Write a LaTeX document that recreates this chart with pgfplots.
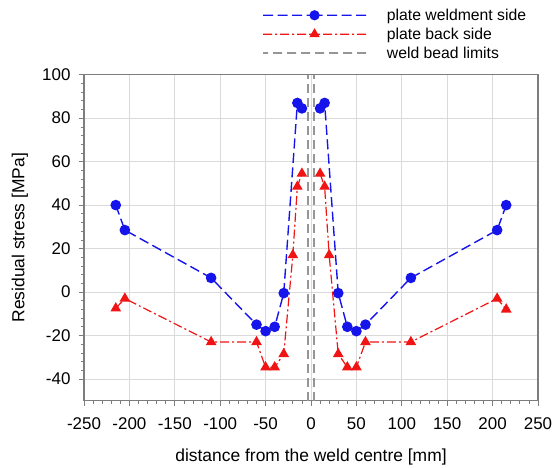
\documentclass[border=0pt]{standalone}
\usepackage{pgfplots}
\pgfplotsset{compat=1.18}
\usepackage{fontspec}
\setmainfont{Liberation Sans}
\definecolor{gridgray}{RGB}{218,218,218}
\definecolor{framegray}{RGB}{125,125,125}
\definecolor{weldgray}{RGB}{150,150,150}
\definecolor{pblue}{RGB}{20,20,235}
\definecolor{pred}{RGB}{240,20,20}
\newcommand\legdash[3]{\pgfpathrectanglecorners{\pgfqpoint{#1bp}{-#3bp}}{\pgfqpoint{#2bp}{#3bp}}}
\pgfdeclareplotmark{legblue}{%
  \pgfsetfillcolor{pblue}\pgfsetstrokecolor{pblue}\pgfsetdash{}{0pt}\pgfsetlinewidth{1bp}%
  \legdash{-51.5}{-41.5}{0.7}\legdash{-37}{-27}{0.7}\legdash{-22.5}{-12.5}{0.7}\legdash{-8}{8}{0.7}%
  \legdash{12.5}{22.5}{0.7}\legdash{27}{37}{0.7}\legdash{41.5}{51.5}{0.7}\pgfusepath{fill}%
  \pgfpathcircle{\pgfpointorigin}{4.6bp}\pgfusepath{fill,stroke}}
\pgfdeclareplotmark{legred}{%
  \pgfsetfillcolor{pred}\pgfsetstrokecolor{pred}\pgfsetdash{}{0pt}\pgfsetlinewidth{1bp}%
  \legdash{-51.5}{-42.5}{0.6}\legdash{-39.5}{-37.5}{0.6}\legdash{-34.5}{-25.5}{0.6}\legdash{-22.5}{-20.5}{0.6}%
  \legdash{-17.5}{-8.5}{0.6}\legdash{-5.5}{5.5}{0.6}%
  \legdash{8.5}{17.5}{0.6}\legdash{20.5}{22.5}{0.6}\legdash{25.5}{34.5}{0.6}\legdash{37.5}{39.5}{0.6}%
  \legdash{42.5}{51.5}{0.6}\pgfusepath{fill}%
  \pgfpathmoveto{\pgfqpoint{0bp}{5bp}}\pgfpathlineto{\pgfqpointpolar{-30}{5bp}}%
  \pgfpathlineto{\pgfqpointpolar{210}{5bp}}\pgfpathclose\pgfusepath{fill,stroke}}
\pgfdeclareplotmark{leggray}{%
  \pgfsetfillcolor{weldgray}\pgfsetdash{}{0pt}%
  \legdash{-51.5}{-46.5}{0.9}\legdash{-41.5}{-32.5}{0.9}\legdash{-27.5}{-18.5}{0.9}\legdash{-13.5}{-4.5}{0.9}%
  \legdash{0.5}{9.5}{0.9}\legdash{14.5}{23.5}{0.9}\legdash{28.5}{37.5}{0.9}\legdash{42.5}{51.5}{0.9}%
  \pgfusepath{fill}}
\tikzset{
  bluestyle/.style={draw=pblue, line width=1.4bp, dash pattern=on 10bp off 4.5bp, mark=*, mark size=4.6bp,
    mark options={solid, fill=pblue, draw=pblue}},
  redstyle/.style={draw=pred, line width=1.2bp, dash pattern=on 9bp off 3bp on 2bp off 3bp, mark=triangle*, mark size=5bp,
    mark options={solid, fill=pred, draw=pred}},
  weldstyle/.style={draw=weldgray, line width=1.8bp, dash pattern=on 9bp off 5bp},
}
\begin{document}
\begin{tikzpicture}
\useasboundingbox (-84bp,-67.3bp) rectangle (470bp,400.7bp);
\begin{axis}[
  at={(0,0)}, anchor=south west,
  width=454bp, height=326bp, scale only axis,
  xmin=-250, xmax=250, ymin=-50, ymax=100,
  xtick={-250,-200,...,250}, ytick={-40,-20,...,100},
  minor x tick num=4, minor y tick num=4,
  tick align=outside, tick pos=left,
  grid=major, major grid style={gridgray, line width=0.9bp},
  axis line style={framegray, line width=1.1bp},
  tick style={framegray, line width=0.7bp},
  major tick length=5bp, minor tick length=3bp,
  /pgf/number format/assume math mode=true,
  every tick label/.append style={font=\fontsize{17}{20}\selectfont},
  xticklabel style={yshift=-8bp},
  yticklabel style={xshift=-5bp},
  label style={font=\fontsize{17.5}{21}\selectfont},
  xlabel={distance from the weld centre [mm]},
  ylabel={Residual stress [MPa]},
  xlabel style={at={(axis description cs:0.5,-0.174)}, anchor=center},
  ylabel style={at={(axis description cs:-0.141,0.5)}, anchor=center},
  unbounded coords=jump,
  legend cell align=left,
  legend style={at={(axis description cs:0.392,1)}, anchor=south west, yshift=13bp,
    draw=none, fill=none, inner sep=0pt,
    font=\fontsize{15.8}{19}\selectfont, row sep=2bp},
]
\addplot[bluestyle, legend image code/.code={
    \path (0bp,0bp) (121bp,0bp);
    \path[mark=legblue] plot coordinates {(51.5bp,0bp)};}]
coordinates {(-215,40)(-205,28.5)(-110,6.5)(-60,-15)(-50,-18)(-40,-16)(-30,-0.5)(-15,87)(-10,84.5)
(0,nan)
(10,84.5)(15,87)(30,-0.5)(40,-16)(50,-18)(60,-15)(110,6.5)(205,28.5)(215,40)};
\addlegendentry{plate weldment side}
\addplot[redstyle, legend image code/.code={
    \path (0bp,0bp) (121bp,0bp);
    \path[mark=legred] plot coordinates {(51.5bp,0bp)};}]
coordinates {(-215,-7.5)(-205,-3)(-110,-23)(-60,-23)(-50,-34.6)(-40,-34.6)(-30,-28.5)(-20,17)(-15,48.5)(-10,54.5)
(0,nan)
(10,54.5)(15,48.5)(20,17)(30,-28.5)(40,-34.6)(50,-34.6)(60,-23)(110,-23)(205,-3)(215,-8)};
\addlegendentry{plate back side}
\addplot[weldstyle, legend image code/.code={
    \path (0bp,0bp) (121bp,0bp);
    \path[mark=leggray] plot coordinates {(51.5bp,0bp)};}] coordinates {(-3.7,-50)(-3.7,100)};
\addlegendentry{weld bead limits}
\addplot[weldstyle, forget plot] coordinates {(3.7,-50)(3.7,100)};
\end{axis}
\end{tikzpicture}
\end{document}
